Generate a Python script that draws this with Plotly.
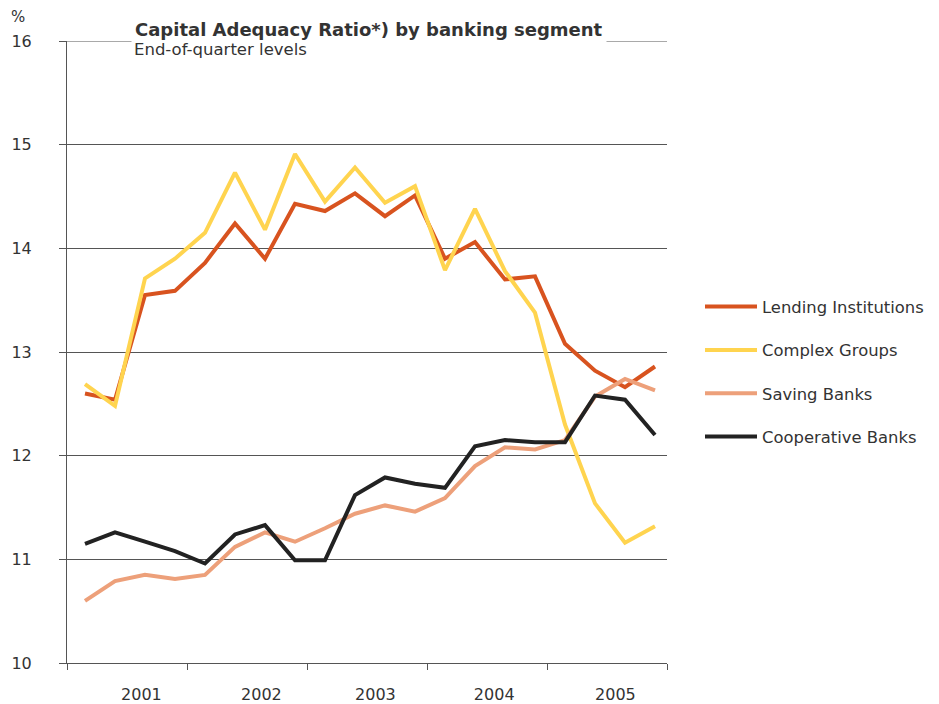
import plotly.graph_objects as go

# quarters 2001Q1..2005Q4, placed slightly right of the quarter middle as in the original
quarters = [2001 + (i + 0.6) / 4 for i in range(20)]
year_labels = ["2001", "2002", "2003", "2004", "2005"]
year_label_pos = [2001.62, 2002.62, 2003.57, 2004.56, 2005.57]
year_bounds = [2001, 2002, 2003, 2004, 2005, 2006]
y_ticks = [10, 11, 12, 13, 14, 15, 16]

lending = [12.60, 12.54, 13.55, 13.59, 13.86, 14.24, 13.90, 14.43, 14.36, 14.53,
           14.31, 14.51, 13.90, 14.06, 13.70, 13.73, 13.08, 12.82, 12.66, 12.86]
complex_groups = [12.69, 12.48, 13.71, 13.90, 14.15, 14.73, 14.18, 14.91, 14.45, 14.78,
                  14.44, 14.60, 13.79, 14.38, 13.78, 13.38, 12.30, 11.54, 11.16, 11.32]
saving = [10.60, 10.79, 10.85, 10.81, 10.85, 11.12, 11.26, 11.17, 11.30, 11.44,
          11.52, 11.46, 11.59, 11.90, 12.08, 12.06, 12.15, 12.57, 12.74, 12.63]
cooperative = [11.15, 11.26, 11.17, 11.08, 10.96, 11.24, 11.33, 10.99, 10.99, 11.62,
               11.79, 11.73, 11.69, 12.09, 12.15, 12.13, 12.13, 12.58, 12.54, 12.20]

SERIES = [
    ("Lending Institutions", lending, "#D8531F"),
    ("Complex Groups", complex_groups, "#FFD44F"),
    ("Saving Banks", saving, "#EDA07A"),
    ("Cooperative Banks", cooperative, "#222222"),
]

FONT = "DejaVu Sans, Verdana, sans-serif"
TEXT = "#333333"
GRID = "#555555"

fig = go.Figure()
for name, vals, color in SERIES:
    fig.add_trace(go.Scatter(x=quarters, y=vals, mode="lines", name=name, legendgroup=name,
                             line=dict(color=color, width=4)))

fig.update_layout(
    width=939,
    height=704,
    margin=dict(l=67, r=272, t=41, b=41, autoexpand=False),
    paper_bgcolor="white",
    plot_bgcolor="white",
    font=dict(family=FONT, color=TEXT, size=16),
    showlegend=True,
    legend=dict(x=1.055, y=0.468, xanchor="left", yanchor="middle", font=dict(size=16.4, color=TEXT),
                tracegroupgap=19, itemwidth=52, bgcolor="rgba(0,0,0,0)"),
    hovermode=False,
)
fig.update_xaxes(
    range=[2001, 2006],
    tickvals=year_label_pos,
    ticktext=year_labels,
    ticks="",
    ticklabelstandoff=17,
    automargin=False,
    showgrid=False,
    showline=True,
    linecolor=GRID,
    linewidth=1,
    zeroline=False,
    minor=dict(tickmode="array", tickvals=year_bounds, ticks="outside", ticklen=6,
               tickcolor=GRID, tickwidth=1, showgrid=False),
)
fig.update_yaxes(
    range=[10, 16],
    tickvals=y_ticks,
    ticks="outside",
    ticklen=7,
    tickcolor=GRID,
    ticklabelstandoff=24,
    automargin=False,
    showgrid=True,
    gridcolor=GRID,
    gridwidth=1,
    showline=True,
    linecolor=GRID,
    linewidth=1,
    zeroline=False,
)
# top gridline at 16 (sits on the range edge, so draw it explicitly)
fig.add_shape(type="line", xref="paper", yref="y", x0=-0.012, x1=1, y0=y_ticks[-1], y1=y_ticks[-1],
              line=dict(color=GRID, width=1), layer="below")
fig.add_annotation(text="%", xref="paper", yref="paper", x=-0.097, y=1.039, xanchor="left",
                   yanchor="middle", showarrow=False, font=dict(size=15, color=TEXT))
fig.add_annotation(text="<b>Capital Adequacy Ratio*) by banking segment</b>", xref="paper", yref="paper",
                   x=0.107, y=1.018, xanchor="left", yanchor="middle", showarrow=False,
                   bgcolor="white", borderpad=3, font=dict(size=18, color=TEXT))
fig.add_annotation(text="End-of-quarter levels", xref="paper", yref="paper",
                   x=0.1077, y=0.986, xanchor="left", yanchor="middle", showarrow=False,
                   font=dict(size=16.5, color=TEXT))

fig.write_html("out.html", config={"displayModeBar": False},
               post_script="document.body.style.margin = '0';")
